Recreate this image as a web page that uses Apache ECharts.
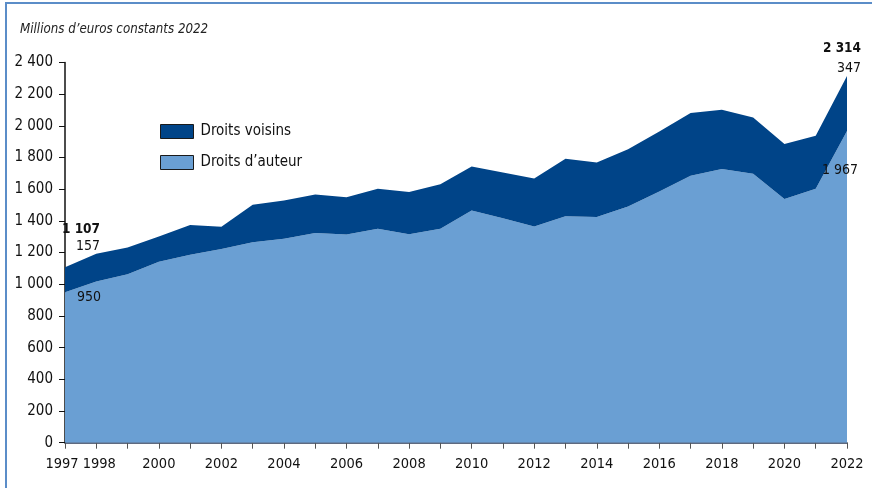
<!DOCTYPE html>
<html><head><meta charset="utf-8">
<script src="https://cdn.jsdelivr.net/npm/echarts@6/dist/echarts.min.js"></script>
<style>html,body{margin:0;padding:0;background:#fff}#c{width:872px;height:488px}</style>
</head><body><div id="c"></div>
<script>
const years = ['1997','1998','1999','2000','2001','2002','2003','2004','2005','2006','2007','2008','2009','2010','2011','2012','2013','2014','2015','2016','2017','2018','2019','2020','2021','2022'];
const droitsAuteur = [950,1017,1064,1143,1186,1222,1266,1287,1323,1314,1350,1316,1350,1466,1417,1365,1430,1424,1491,1586,1685,1727,1697,1538,1603,1967];
const droitsVoisins = [157,175,168,158,189,141,236,242,244,236,253,266,282,278,289,303,362,345,362,379,396,375,356,347,334,347];
const yTicks = [0,200,400,600,800,1000,1200,1400,1600,1800,2000,2200,2400];
const unitLabel = "Millions d’euros constants 2022";
const seriesNames = ['Droits voisins', 'Droits d’auteur'];

const FONT = "'Liberation Sans Narrow','DejaVu Sans Condensed',sans-serif";
const fmt = v => String(v).replace(/\B(?=(\d{3})+(?!\d))/g, ' ');
const totals = droitsAuteur.map((v,i)=>v+droitsVoisins[i]);
const last = years.length-1;

function mp(coord, text, dx, dy, bold) {
  return { coord: coord, symbol: 'circle', symbolSize: 0,
    label: { show: true, formatter: text, position: 'inside', align: 'right', verticalAlign: 'middle',
      offset: [dx, dy], color: '#111', fontFamily: FONT, fontSize: bold ? 13.5 : 14, fontWeight: bold ? 'bold' : 'normal' } };
}
const XFS = 14.5;
const xLabelStyle = { margin: 14, fontSize: XFS, color: '#111', fontFamily: FONT, hideOverlap: false };

const chart = echarts.init(document.getElementById('c'));
chart.setOption({
  animation: false,
  textStyle: { fontFamily: FONT },
  graphic: [
    { type: 'rect', shape: { x: 6, y: 3, width: 900, height: 600 }, style: { fill: 'none', stroke: '#5b8dc8', lineWidth: 2 }, z: 0 },
    { type: 'text', left: 20, top: 23, style: { text: unitLabel, fontFamily: FONT, fontStyle: 'italic', fontSize: 13.2, fill: '#222' } }
  ],
  grid: { left: 65, right: 25, top: 62.5, bottom: 45.3 },
  legend: {
    orient: 'vertical', left: 160, top: 124, padding: 0, itemWidth: 33, itemHeight: 14, itemGap: 16,
    icon: 'rect', data: seriesNames,
    itemStyle: { borderColor: '#1a1a1a', borderWidth: 1 },
    textStyle: { fontFamily: FONT, fontSize: 15, color: '#111', padding: [0, 0, 0, 2] }
  },
  xAxis: [{
    type: 'category', data: years, boundaryGap: false, position: 'bottom',
    axisLine: { lineStyle: { color: '#2b3a55', width: 1.5 } },
    axisTick: { show: true, interval: 0, length: 6, lineStyle: { color: '#555' } },
    axisLabel: Object.assign({ interval: (i, v) => i === 0 || ((+v) % 2 === 0 && i !== 1), showMinLabel: true, showMaxLabel: true,
      formatter: (v, i) => i === 0 ? '{a|' + v + '}' : v,
      rich: { a: { padding: [0, 6, 0, 0], fontSize: XFS, color: '#111', fontFamily: FONT } } }, xLabelStyle),
    splitLine: { show: false }
  }, {
    type: 'category', data: years, boundaryGap: false, position: 'bottom', gridIndex: 0,
    axisLine: { show: false }, axisTick: { show: false },
    axisLabel: Object.assign({ interval: (i) => i === 1, showMinLabel: false, showMaxLabel: false,
      formatter: v => '{b|' + v + '}',
      rich: { b: { padding: [0, 0, 0, 6], fontSize: XFS, color: '#111', fontFamily: FONT } } }, xLabelStyle),
    splitLine: { show: false }
  }],
  yAxis: {
    type: 'value', min: yTicks[0], max: yTicks[yTicks.length-1], interval: yTicks[1]-yTicks[0],
    axisLine: { show: true, lineStyle: { color: '#111', width: 1.5 } },
    axisTick: { show: true, length: 6, lineStyle: { color: '#111' } },
    axisLabel: { formatter: v => fmt(v), margin: 12, fontSize: 15, color: '#111', fontFamily: FONT },
    splitLine: { show: false }
  },
  series: [
    { name: seriesNames[1], type: 'line', stack: 'tot', data: droitsAuteur, symbol: 'none', xAxisIndex: 0,
      color: '#6a9fd3', lineStyle: { width: 0 }, areaStyle: { color: '#6a9fd3', opacity: 1 }, z: 2,
      markPoint: { data: [
        mp([years[0], droitsAuteur[0]], fmt(droitsAuteur[0]), 36, 5, false),
        mp([years[last], droitsAuteur[last]], fmt(droitsAuteur[last]), 11, 39, false)
      ] } },
    { name: seriesNames[0], type: 'line', stack: 'tot', data: droitsVoisins, symbol: 'none', xAxisIndex: 0,
      color: '#004488', lineStyle: { width: 0 }, areaStyle: { color: '#004488', opacity: 1 }, z: 2,
      markPoint: { data: [
        mp([years[0], totals[0]], fmt(totals[0]), 35, -38, true),
        mp([years[0], totals[0]], fmt(droitsVoisins[0]), 35, -21, false),
        mp([years[last], totals[last]], fmt(totals[last]), 14, -28, true),
        mp([years[last], totals[last]], fmt(droitsVoisins[last]), 14, -8, false)
      ] } }
  ]
});
</script></body></html>
